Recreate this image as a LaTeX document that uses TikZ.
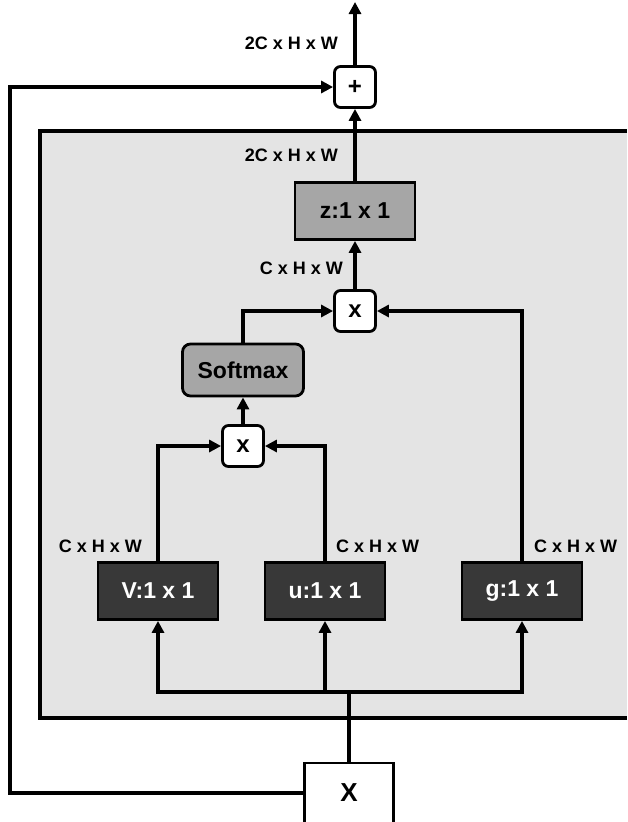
\documentclass[tikz,border=0pt]{standalone}
\usepackage{fontspec}
\setmainfont{Liberation Sans}
\usetikzlibrary{arrows.meta}
\definecolor{panelgray}{HTML}{E4E4E4}
\definecolor{mixgray}{HTML}{A6A6A6}
\definecolor{convdark}{HTML}{383838}

\begin{document}
\begin{tikzpicture}[
      x=1pt,y=-1pt,
      conv/.style={draw,line width=2.8pt,fill=convdark,text=white,minimum width=120pt,minimum height=57pt,font=\fontsize{23}{26}\selectfont\bfseries},
      mixbox/.style={draw,line width=2.8pt,fill=mixgray,minimum width=120pt,minimum height=57pt,font=\fontsize{23}{26}\selectfont\bfseries},
      opbox/.style={draw,line width=2.8pt,fill=white,rounded corners=6pt,minimum width=41pt,minimum height=41pt,font=\fontsize{24}{26}\selectfont\bfseries},
      inbox/.style={draw,line width=2.8pt,fill=white,minimum width=89pt,minimum height=60pt,font=\fontsize{26}{28}\selectfont\bfseries},
      dim/.style={inner sep=0pt,font=\fontsize{18}{20}\selectfont\bfseries},
      link/.style={line width=3.5pt},
      flow/.style={-{Triangle[length=12pt,width=12pt]},line width=3.5pt}
    ]
      \useasboundingbox (0,0) rectangle (627,822);
      % grey block
      \fill[panelgray] (40,131) rectangle (627,718);
      \draw[line width=3.5pt] (627,131) -| (40,718) -- (627,718);

      \node[opbox] (plus) at (355,87) {+};
      \node[mixbox] (z) at (355,211) {z:1 x 1};
      \node[opbox] (mulup) at (355,311) {x};
      \node[mixbox,rounded corners=8pt,minimum width=121pt,minimum height=52pt] (softmax) at (243,370) {Softmax};
      \node[opbox] (mullow) at (243,446) {x};
      \node[conv] (v) at (158,591) {V:1 x 1};
      \node[conv] (u) at (325,591) {u:1 x 1};
      \node[conv] (g) at (522,591) {g:1 x 1};
      \node[inbox] (x) at (349,793) {X};

      \node[dim,anchor=east] (dimout) at (338,43) {2C x H x W};
      \node[dim,anchor=east] (dimz) at (338,155) {2C x H x W};
      \node[dim,anchor=east] (dimmul) at (343,268) {C x H x W};
      \node[dim,anchor=east] (dimv) at (142,546) {C x H x W};
      \node[dim,anchor=west] (dimu) at (336,546) {C x H x W};
      \node[dim,anchor=west] (dimg) at (534,546) {C x H x W};

      \coordinate (out) at (355,2);
      \coordinate (loop) at (10,440);
      \coordinate (split) at (349,692);

      \draw[flow] (plus) -- (out);
      \draw[flow] (z) -- (plus);
      \draw[flow] (mulup) -- (z);
      \draw[flow] (softmax) |- (mulup);
      \draw[flow] (g) |- (mulup);
      \draw[flow] (mullow) -- (softmax);
      \draw[flow] (v) |- (mullow);
      \draw[flow] (u) |- (mullow);
      \draw[link] (x) -- (split);
      \draw[flow] (split) -| (v);
      \draw[flow] (split) -| (u);
      \draw[flow] (split) -| (g);
      \draw[flow] (x) -| (loop) |- (plus);
    \end{tikzpicture}
\end{document}
